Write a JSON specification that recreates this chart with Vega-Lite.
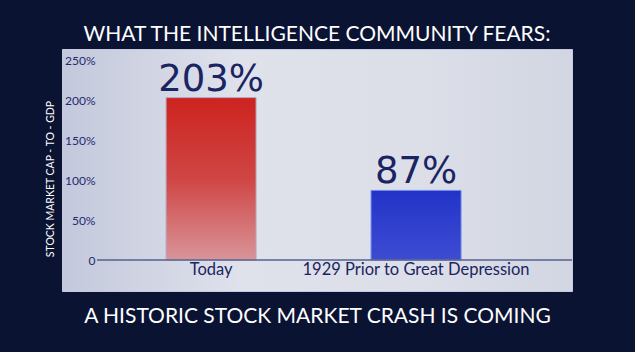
{
  "$schema": "https://vega.github.io/schema/vega-lite/v6.json",
  "autosize": "none",
  "width": 510,
  "height": 242,
  "padding": {"left": 62, "top": 49, "right": 63, "bottom": 61},
  "background": "#0b1333",
  "config": {
    "font": "Lato",
    "view": {
      "fill": {
        "gradient": "linear", "x1": 0, "y1": 0, "x2": 1, "y2": 0,
        "stops": [
          {"offset": 0, "color": "#c3c8dc"},
          {"offset": 0.35, "color": "#dfe2eb"},
          {"offset": 0.7, "color": "#dcdfe8"},
          {"offset": 1, "color": "#d2d6e2"}
        ]
      },
      "stroke": "#c3cae2",
      "strokeWidth": 1
    }
  },
  "title": {
    "text": "WHAT THE INTELLIGENCE COMMUNITY FEARS:",
    "anchor": "middle",
    "frame": "group",
    "fontSize": 21,
    "fontWeight": "normal",
    "color": "#ffffff",
    "baseline": "alphabetic",
    "offset": -13
  },
  "data": {
    "values": [
      {"label": "Today", "value": 203},
      {"label": "1929 Prior to Great Depression", "value": 87}
    ]
  },
  "transform": [{"calculate": "datum.value + '%'", "as": "display"}],
  "encoding": {
    "x": {
      "field": "label",
      "type": "nominal",
      "sort": null,
      "scale": {"paddingInner": 0.561, "paddingOuter": 0.5245, "align": 0.484},
      "axis": {
        "orient": "bottom",
        "offset": -31,
        "domain": false,
        "ticks": false,
        "labelAngle": 0,
        "labelFontSize": 16.5,
        "labelLimit": 400,
        "labelColor": "#1b2463",
        "labelPadding": 1,
        "title": "A HISTORIC STOCK MARKET CRASH IS COMING",
        "titleColor": "#ffffff",
        "titleFontSize": 21,
        "titleFontWeight": "normal",
        "titleBaseline": "alphabetic",
        "titleY": 62,
        "titleX": 255,
        "titleAlign": "center"
      }
    },
    "y": {
      "field": "value",
      "type": "quantitative",
      "scale": {"domain": [-38.75, 263.75], "nice": false, "zero": false},
      "axis": {
        "values": [0, 50, 100, 150, 200, 250],
        "labelExpr": "datum.value == 0 ? '0' : datum.value + '%'",
        "offset": -35,
        "domain": false,
        "ticks": false,
        "grid": false,
        "labelPadding": 2,
        "labelFontSize": 12,
        "labelColor": "#1f2a70",
        "title": "STOCK MARKET CAP - TO - GDP",
        "titleColor": "#ffffff",
        "titleFontSize": 10.5,
        "titleFontWeight": "normal",
        "titleX": -46.5,
        "titleY": 129.5,
        "titleAlign": "center",
        "titleBaseline": "middle",
        "titleAngle": 270
      }
    }
  },
  "layer": [
    {
      "transform": [{"filter": "datum.label == 'Today'"}],
      "mark": {
        "type": "bar",
        "stroke": "#b9a7c4",
        "strokeWidth": 1,
        "fill": {
          "gradient": "linear", "x1": 0, "y1": 0, "x2": 0, "y2": 1,
          "stops": [
            {"offset": 0, "color": "#cd231f"},
            {"offset": 0.5, "color": "#cf4644"},
            {"offset": 1, "color": "#d99499"}
          ]
        }
      },
      "encoding": {"y2": {"datum": 0}}
    },
    {
      "transform": [{"filter": "datum.label != 'Today'"}],
      "mark": {
        "type": "bar",
        "stroke": "#7189ee",
        "strokeWidth": 1,
        "fill": {
          "gradient": "linear", "x1": 0, "y1": 0, "x2": 0, "y2": 1,
          "stops": [
            {"offset": 0, "color": "#2234c8"},
            {"offset": 1, "color": "#3e4cd2"}
          ]
        }
      },
      "encoding": {"y2": {"datum": 0}}
    },
    {
      "mark": {"type": "rule", "color": "#56628f", "strokeWidth": 1.2},
      "encoding": {
        "x": {"datum": "Today", "bandPosition": -0.767},
        "x2": {"datum": "1929 Prior to Great Depression", "bandPosition": 2.233},
        "y": {"datum": 0}
      }
    },
    {
      "mark": {"type": "text", "font": "DejaVu Sans", "fontSize": 37, "color": "#1b2463", "baseline": "alphabetic", "align": "center", "dy": -7},
      "encoding": {"text": {"field": "display"}}
    }
  ]
}
